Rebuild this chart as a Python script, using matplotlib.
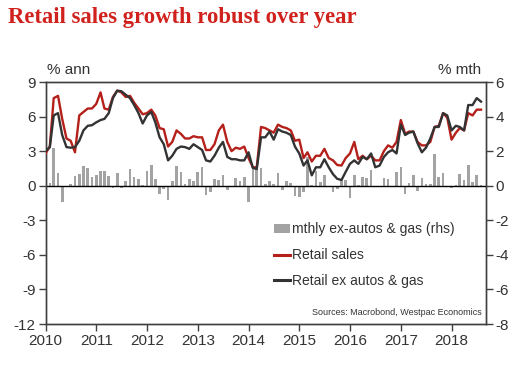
import matplotlib
matplotlib.use("Agg")
import matplotlib.pyplot as plt
import matplotlib.dates as mdates
import pandas as pd
from matplotlib.lines import Line2D
from matplotlib.patches import Patch

# monthly, Jan 2010 - Aug 2018
start_month = "2010-01-01"

retail_sales = [
    2.8, 3.4, 7.6, 7.8, 5.8, 4.1, 3.9, 2.9, 6.1, 6.4, 6.7, 6.7,
    7.1, 8.1, 6.7, 6.6, 7.7, 8.25, 8.1, 7.7, 7.8, 7.2, 6.7, 6.2,
    6.3, 6.6, 6.1, 5.0, 4.9, 3.4, 3.8, 4.8, 4.5, 4.1, 4.1, 4.3,
    4.2, 4.2, 3.1, 3.1, 3.6, 4.8, 5.3, 3.8, 3.0, 3.3, 3.2, 3.4,
    2.4, 1.6, 1.6, 5.1, 5.0, 4.8, 4.6, 5.3, 5.1, 5.0, 4.8, 3.9,
    4.0, 2.4, 2.9, 2.1, 2.6, 2.6, 3.2, 2.4, 2.2, 1.8, 1.75, 2.4,
    2.8, 3.8, 2.3, 2.6, 2.3, 2.6, 2.2, 2.2, 3.0, 3.5, 3.3, 3.8,
    5.7, 4.5, 4.7, 4.7, 3.8, 3.5, 3.5, 3.8, 5.1, 5.2, 6.3, 5.9,
    4.0, 4.6, 5.0, 4.8, 6.3, 6.1, 6.6, 6.6,
]

retail_ex_autos_gas = [
    3.0, 3.35, 6.1, 6.3, 4.4, 3.35, 3.3, 3.35, 3.9, 4.8, 5.2, 5.25,
    5.5, 5.7, 5.8, 6.3, 7.6, 8.25, 8.2, 7.9, 7.6, 7.0, 6.3, 5.4,
    6.1, 6.4, 5.5, 4.2, 3.6, 2.2, 2.6, 3.2, 3.4, 3.35, 3.2, 3.6,
    3.35, 3.1, 2.2, 2.1, 2.6, 3.3, 3.8, 2.5, 2.3, 2.3, 2.2, 2.2,
    2.9, 1.55, 1.45, 4.2, 4.2, 4.7, 4.0, 4.9, 4.7, 4.6, 4.4, 3.4,
    2.8, 1.75, 2.2, 0.9, 1.6, 1.6, 2.3, 1.6, 1.0, 0.6, 0.5, 1.2,
    1.9, 2.2, 1.9, 2.5, 2.3, 2.8, 1.6, 1.75, 2.5, 2.9, 3.1, 2.8,
    5.3, 4.4, 4.6, 4.7, 3.7, 2.9, 3.3, 4.1, 5.1, 5.1, 6.3, 6.1,
    4.8, 5.2, 5.1, 4.8, 7.0, 7.0, 7.6, 7.3,
]

mthly_ex_autos_gas = [
    0.0, 0.14, 2.2, 0.72, -0.94, 0.0, 0.1, 0.57, 0.68, 1.15, 1.03, 0.49,
    0.62, 0.88, 0.88, 0.58, -0.14, 0.72, -0.14, 0.25, 0.96, 0.5, 0.39, 0.06,
    0.86, 1.17, 0.38, -0.49, -0.2, -0.84, 0.29, 1.15, 0.77, 0.1, 0.39, 0.25,
    0.82, 1.1, -0.55, -0.35, 0.4, 0.34, 0.62, -0.22, -0.08, 0.46, 0.25, 0.49,
    -0.95, 1.0, 1.03, 1.03, 0.1, 0.25, 0.1, 0.74, -0.25, 0.3, 0.14, -0.58,
    -0.64, -0.39, 1.66, 0.06, 0.88, 0.2, 0.62, -0.1, -0.35, -0.2, 0.33, 0.33,
    -0.72, 0.64, 0.06, 0.53, 0.45, 0.92, -0.06, 0.0, 0.45, 0.39, 0.0, 0.78,
    1.11, -0.49, 0.15, 0.61, -0.3, 0.45, 0.1, 0.1, 1.81, 0.53, 0.73, 0.0,
    -0.15, 0.06, 0.68, 0.33, 1.21, 0.23, 0.64, 0.06,
]

left_ticks = [-12, -9, -6, -3, 0, 3, 6, 9]
right_ticks = [-8, -6, -4, -2, 0, 2, 4, 6]

RED = "#b5201a"
DARK = "#333333"
BAR = "#a3a3a3"
TXT = "#333333"

plt.rcParams["font.family"] = ["Liberation Sans", "DejaVu Sans"]
plt.rcParams["axes.unicode_minus"] = False

dates = pd.date_range(start_month, periods=len(retail_sales), freq="MS")

fig = plt.figure(figsize=(5.28, 3.75), dpi=100)
ax = fig.add_axes([0.0862, 0.136, 0.8343, 0.6453])
ax2 = ax.twinx()

# bars on the rhs axis, lines drawn over them
ax2.bar(dates, mthly_ex_autos_gas, width=19, color=BAR, zorder=1)
ax.set_zorder(ax2.get_zorder() + 1)
ax.patch.set_visible(False)

ax.axhline(0, color="black", linewidth=1.0, zorder=2)
ax.plot(dates, retail_sales, color=RED, linewidth=1.7, zorder=3)
ax.plot(dates, retail_ex_autos_gas, color=DARK, linewidth=1.7, zorder=4)

ax.set_xlim(pd.Timestamp("2010-01-01"), pd.Timestamp("2018-09-06"))
ax.set_ylim(-12, 9)
ax2.set_ylim(-8, 6)
ax.set_yticks(left_ticks)
ax2.set_yticks(right_ticks)
ax.xaxis.set_major_locator(mdates.YearLocator())
ax.xaxis.set_major_formatter(mdates.DateFormatter("%Y"))

for a in (ax, ax2):
    for sp in a.spines.values():
        sp.set_color("#404040")
        sp.set_linewidth(1.0)
    a.tick_params(axis="both", direction="out", length=5, width=1.0,
                  color="#404040", labelsize=11, labelcolor=TXT, pad=2)

ax.text(0.004, 1.02, "% ann", transform=ax.transAxes, fontsize=11,
        color=TXT, ha="left", va="bottom")
ax.text(0.99, 1.02, "% mth", transform=ax.transAxes, fontsize=11,
        color=TXT, ha="right", va="bottom")

fig.text(0.015, 0.952, "Retail sales growth robust over year",
         family=["Liberation Serif", "DejaVu Serif"], fontweight="bold",
         fontsize=16.3, color="#d0211c", ha="left", va="center")

handles = [
    Patch(facecolor=BAR, edgecolor="none"),
    Line2D([], [], color=RED, linewidth=2.2),
    Line2D([], [], color=DARK, linewidth=2.2),
]
labels = ["mthly ex-autos & gas (rhs)", "Retail sales", "Retail ex autos & gas"]
ax.legend(handles, labels, loc="upper left", bbox_to_anchor=(0.505, 0.443),
          frameon=False, fontsize=10, handlelength=1.2, handleheight=0.6,
          handletextpad=0.1, labelspacing=0.85, borderaxespad=0,
          labelcolor=TXT)

ax.text(0.99, 0.03, "Sources: Macrobond, Westpac Economics",
        transform=ax.transAxes, fontsize=6.5, color=TXT, ha="right", va="bottom")

fig.savefig("out.png", dpi=100)
